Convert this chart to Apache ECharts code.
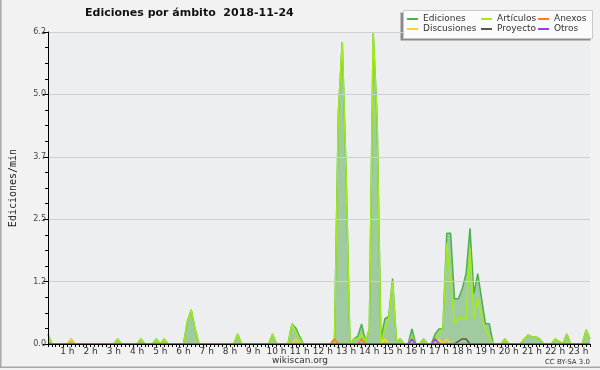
<!DOCTYPE html>
<html>
<head>
<meta charset="utf-8">
<script src="https://cdn.jsdelivr.net/npm/echarts@6/dist/echarts.min.js"></script>
<style>html,body{margin:0;padding:0;background:#f2f2f2}#c{width:600px;height:370px}</style>
</head>
<body>
<div id="c"></div>
<script>
// time slots every 10 minutes from 0:10 to 23:30
const categories = [];
for (let m = 10; m <= 1410; m += 10) {
  categories.push(Math.floor(m / 60) + ':' + String(m % 60).padStart(2, '0'));
}
const yTicks = [0, 1.24, 2.48, 3.72, 4.96, 6.2];

const ediciones = [
  0.2,0,0,0,0,0,0.1,0,0,0,
  0,0,0,0,0,0,0,0,0.1,0,
  0,0,0,0,0.1,0,0,0,0.1,0,
  0.1,0,0,0,0,0,0.45,0.68,0.3,0,
  0,0,0,0,0,0,0,0,0,0.2,
  0,0,0,0,0,0,0,0,0.2,0,
  0,0,0,0.4,0.32,0.15,0,0,0,0,
  0,0,0,0,0.1,4.6,6.0,3.4,0,0.1,
  0.15,0.4,0.05,0.3,6.2,4.5,0.1,0.5,0.55,1.3,
  0.05,0.1,0,0,0.3,0,0,0.1,0,0,
  0.2,0.3,0.3,2.2,2.2,0.9,0.9,1.1,1.4,2.3,
  1.0,1.4,0.9,0.4,0.4,0,0,0,0.1,0,
  0,0,0,0.1,0.18,0.14,0.14,0.1,0,0,
  0,0.1,0.05,0,0.2,0,0,0,0,0.28,
  0.1
];
const articulos = [
  0.2,0,0,0,0,0,0,0,0,0,
  0,0,0,0,0,0,0,0,0.1,0,
  0,0,0,0,0.1,0,0,0,0.1,0,
  0.1,0,0,0,0,0,0.45,0.68,0.3,0,
  0,0,0,0,0,0,0,0,0,0.2,
  0,0,0,0,0,0,0,0,0.2,0,
  0,0,0,0.4,0.25,0.1,0,0,0,0,
  0,0,0,0,0,4.6,6.0,3.4,0,0.1,
  0.1,0.2,0.05,0.3,6.2,4.5,0,0.3,0.5,1.25,
  0.05,0.1,0,0,0.15,0,0,0.1,0,0,
  0.1,0.2,0.3,2.0,1.2,0.4,0.5,0.5,0.5,1.9,
  0.5,0.9,0.55,0.28,0.15,0,0,0,0.1,0,
  0,0,0,0.1,0.18,0.14,0.14,0.1,0,0,
  0,0.1,0.05,0,0.2,0,0,0,0,0.28,
  0.1
];
const anexos = [
  0,0,0,0,0,0,0,0,0,0, 0,0,0,0,0,0,0,0,0,0,
  0,0,0,0,0,0,0,0,0,0, 0,0,0,0,0,0,0,0,0,0,
  0,0,0,0,0,0,0,0,0,0, 0,0,0,0,0,0,0,0,0,0,
  0,0,0,0,0,0,0,0,0,0, 0,0,0,0,0.1,0,0,0,0,0,
  0,0.1,0,0,0,0,0,0,0,0, 0,0,0,0,0,0,0,0,0,0,
  0,0,0,0,0,0,0,0,0,0, 0,0,0,0,0,0,0,0,0,0,
  0,0,0,0,0,0,0,0,0,0, 0,0,0,0,0,0,0,0,0,0,
  0
];
const discusiones = [
  0,0,0,0,0,0,0.1,0,0,0, 0,0,0,0,0,0,0,0,0,0,
  0,0,0,0,0,0,0,0,0,0, 0,0,0,0,0,0,0,0,0,0,
  0,0,0,0,0,0,0,0,0,0, 0,0,0,0,0,0,0,0,0,0,
  0,0,0,0,0.1,0,0,0,0,0, 0,0,0,0,0,0,0,0,0,0,
  0,0,0,0,0,0,0,0.1,0,0, 0,0,0,0,0,0,0,0,0,0,
  0,0.1,0,0.1,0,0,0,0,0,0, 0,0,0,0,0,0,0,0,0,0,
  0,0,0,0,0,0,0,0,0,0, 0,0,0,0,0,0,0,0,0,0,
  0
];
const proyecto = [
  0,0,0,0,0,0,0,0,0,0, 0,0,0,0,0,0,0,0,0,0,
  0,0,0,0,0,0,0,0,0,0, 0,0,0,0,0,0,0,0,0,0,
  0,0,0,0,0,0,0,0,0,0, 0,0,0,0,0,0,0,0,0,0,
  0,0,0,0,0,0,0,0,0,0, 0,0,0,0,0,0,0,0,0,0,
  0,0,0,0,0,0,0,0,0,0, 0,0,0,0,0,0,0,0,0,0,
  0,0,0,0,0,0,0.05,0.1,0.1,0, 0,0,0,0,0,0,0,0,0,0,
  0,0,0,0,0,0,0,0,0,0, 0,0,0,0,0,0,0,0,0,0,
  0
];
const otros = [
  0,0,0,0,0,0,0,0,0,0, 0,0,0,0,0,0,0,0,0,0,
  0,0,0,0,0,0,0,0,0,0, 0,0,0,0,0,0,0,0,0,0,
  0,0,0,0,0,0,0,0,0,0, 0,0,0,0,0,0,0,0,0,0,
  0,0,0,0,0,0,0,0,0,0, 0,0,0,0,0,0,0,0,0,0,
  0,0,0,0,0,0,0,0,0,0, 0,0,0,0,0.1,0,0,0,0,0,
  0.1,0,0,0,0,0,0,0,0,0, 0,0,0,0,0,0,0,0,0,0,
  0,0,0,0,0,0,0,0,0,0, 0,0,0,0,0,0,0,0,0,0,
  0
];

const colors = {
  Ediciones: '#4cb04c', 'Artículos': '#a2ec1a', Anexos: '#ff7a2e',
  Discusiones: '#ffcf2a', Proyecto: '#555555', Otros: '#9a3cff'
};

function lineSeries(name, data, extra) {
  return Object.assign({
    name: name, type: 'line', data: data, symbol: 'none', smooth: false,
    lineStyle: { color: colors[name], width: 1.5 },
    itemStyle: { color: colors[name] },
    emphasis: { disabled: true }, animation: false
  }, extra || {});
}

const legendText = { fontFamily: 'DejaVu Sans', fontSize: 9, color: '#333', lineHeight: 10 };
function legendCol(names, left) {
  return {
    data: names, orient: 'vertical', left: left, top: 14, padding: 0,
    itemWidth: 11, itemHeight: 2, itemGap: 0, icon: 'rect',
    selectedMode: false, textStyle: legendText
  };
}

const chart = echarts.init(document.getElementById('c'), null, { renderer: 'canvas' });
chart.setOption({
  backgroundColor: '#f2f2f2',
  animation: false,
  title: {
    text: 'Ediciones por ámbito  2018-11-24', left: 85, top: 8, padding: 0,
    textStyle: { fontFamily: 'DejaVu Sans', fontSize: 11, fontWeight: 'bold', color: '#111' }
  },
  graphic: [
    { type: 'rect', shape: { x: 0, y: 0, width: 1.5, height: 368 }, style: { fill: '#a8a8a8' }, z: 0 },
    { type: 'rect', shape: { x: 0, y: 366.5, width: 600, height: 1.5 }, style: { fill: '#a8a8a8' }, z: 0 },
    { type: 'rect', shape: { x: 400.5, y: 12.5, width: 190, height: 28 }, style: { fill: '#8a8a8a' }, z: 10 },
    { type: 'rect', shape: { x: 403.5, y: 10.5, width: 189, height: 28 }, style: { fill: '#fbfbfb', stroke: '#c8c8c8', lineWidth: 1 }, z: 11 },
    { type: 'text', left: 'center', top: 356, style: { text: 'wikiscan.org', font: '9px "DejaVu Sans"', fill: '#333' }, z: 20 },
    { type: 'text', right: 10, top: 359, style: { text: 'CC BY-SA 3.0', font: '7px "DejaVu Sans"', fill: '#333' }, z: 20 }
  ],
  legend: [
    Object.assign(legendCol(['Ediciones', 'Discusiones'], 407), { z: 20 }),
    Object.assign(legendCol(['Artículos', 'Proyecto'], 481), { z: 20 }),
    Object.assign(legendCol(['Anexos', 'Otros'], 538), { z: 20 })
  ],
  grid: {
    left: 46, right: 10, top: 32, bottom: 26, show: true,
    backgroundColor: '#eceef0', borderWidth: 0
  },
  xAxis: {
    type: 'category', data: categories, boundaryGap: false, z: 10,
    axisLine: { lineStyle: { color: '#000', width: 1 } },
    axisTick: { show: true, interval: 0, length: 3, lineStyle: { color: '#000' } },
    axisLabel: {
      interval: function (i, v) { return v.endsWith(':00'); },
      formatter: function (v) { return parseInt(v, 10) + ' h'; },
      fontFamily: 'DejaVu Sans', fontSize: 9, color: '#333', margin: 3
    },
    splitLine: { show: false }
  },
  yAxis: {
    type: 'value', min: yTicks[0], max: yTicks[yTicks.length - 1], interval: yTicks[1], z: 10,
    name: 'Ediciones/min', nameLocation: 'middle', nameGap: 30,
    nameTextStyle: { fontFamily: 'DejaVu Sans Mono', fontSize: 10, color: '#222' },
    axisLine: { show: true, lineStyle: { color: '#000', width: 1 } },
    axisTick: { show: true, length: 5, lineStyle: { color: '#000' } },
    minorTick: { show: true, splitNumber: 4, length: 3, lineStyle: { color: '#000' } },
    splitLine: { show: true, lineStyle: { color: '#cfcfcf', width: 1 } },
    axisLabel: {
      formatter: function (v) { return v.toFixed(1); },
      fontFamily: 'DejaVu Sans', fontSize: 8, color: '#444', margin: 2
    }
  },
  series: [
    lineSeries('Ediciones', ediciones, { areaStyle: { color: '#a0caa0', opacity: 1 } }),
    lineSeries('Artículos', articulos),
    lineSeries('Anexos', anexos),
    lineSeries('Discusiones', discusiones),
    lineSeries('Proyecto', proyecto),
    lineSeries('Otros', otros)
  ]
});
</script>
</body>
</html>
